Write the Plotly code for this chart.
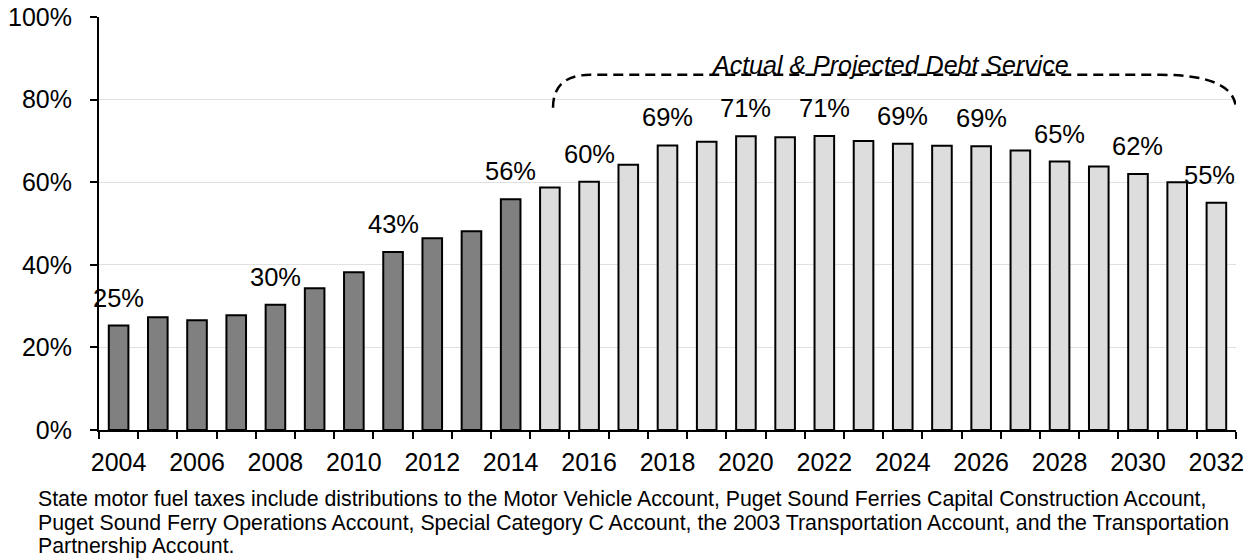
import plotly.graph_objects as go

years = list(range(2004, 2033))
values = [25.3, 27.3, 26.6, 27.8, 30.3, 34.3, 38.2, 43.1, 46.4, 48.1, 55.9,
          58.7, 60.1, 64.2, 68.9, 69.8, 71.1, 70.9, 71.2, 70.0, 69.3, 68.8,
          68.7, 67.7, 65.0, 63.8, 62.0, 60.0, 55.0]
first_projected_year = 2015
label_years = [2004, 2008, 2011, 2014, 2016, 2018, 2020, 2022, 2024, 2026, 2028, 2030, 2032]
y_ticks = [0, 20, 40, 60, 80, 100]
x_tick_years = list(range(2004, 2033, 2))
bracket_text = "Actual & Projected Debt Service"
footnote_lines = [
    "State motor fuel taxes include distributions to the Motor Vehicle Account, Puget Sound Ferries Capital Construction Account,",
    "Puget Sound Ferry Operations Account, Special Category C Account, the 2003 Transportation Account, and the Transportation",
    "Partnership Account.",
]

FONT = "Arial, Liberation Sans, sans-serif"
DARK = "#808080"
LIGHT = "#dddddd"

colors = [DARK if y < first_projected_year else LIGHT for y in years]

fig = go.Figure()
fig.add_trace(go.Bar(
    x=years, y=values,
    marker=dict(color=colors, line=dict(color="black", width=2)),
    width=0.5, hoverinfo="skip",
))

annotations = []
for yr in label_years:
    v = values[years.index(yr)]
    annotations.append(dict(
        x=yr, y=v, xref="x", yref="y", text=f"{round(v)}%",
        showarrow=False, yanchor="bottom", yshift=12,
        xshift=(-7 if yr == years[-1] else 0),
        font=dict(family=FONT, size=25.5, color="black"),
    ))

annotations.append(dict(
    x=2023.68, y=86, xref="x", yref="y",
    text=f"<i>{bracket_text}</i>", showarrow=False, yanchor="bottom", yshift=-6,
    font=dict(family=FONT, size=25, color="black"),
))

foot_y = [-0.167, -0.224, -0.280]
for line, fy in zip(footnote_lines, foot_y):
    annotations.append(dict(
        x=(36 - 99) / 1137, y=fy, xref="paper", yref="paper",
        xanchor="left", yanchor="middle", align="left", text=line,
        showarrow=False, font=dict(family=FONT, size=21.3, color="black"),
    ))

x0 = first_projected_year + 0.08
x1 = years[-1] + 0.5
bracket_path = (f"M {x0},78 Q {x0},86 {x0 + 0.95},86 "
                f"L {x1 - 1.93},86 Q {x1},86 {x1},77.5")

fig.update_layout(
    width=1254, height=559,
    margin=dict(l=99, r=18, t=17, b=129),
    paper_bgcolor="white", plot_bgcolor="white",
    showlegend=False,
    font=dict(family=FONT, size=25, color="black"),
    annotations=annotations,
    shapes=[dict(type="path", path=bracket_path, xref="x", yref="y",
                 line=dict(color="black", width=2.5, dash="10px,6px"))],
    xaxis=dict(
        range=[years[0] - 0.5, years[-1] + 0.5], automargin=False,
        tickmode="array", tickvals=x_tick_years,
        ticktext=[str(y) for y in x_tick_years],
        ticks="", showgrid=False, zeroline=False,
        showline=True, linecolor="black", linewidth=2,
        tickfont=dict(family=FONT, size=25, color="black"),
        minor=dict(tickmode="array",
                   tickvals=[y - 0.5 for y in years] + [years[-1] + 0.5],
                   ticks="outside", ticklen=7, tickwidth=2, tickcolor="black",
                   showgrid=False),
        ticklabelstandoff=9, ticklabeloverflow="allow",
    ),
    yaxis=dict(
        range=[0, 100], tickmode="array", tickvals=y_ticks, automargin=False,
        ticktext=[f"{t}%" for t in y_ticks],
        ticks="outside", ticklen=7, tickwidth=2, tickcolor="black",
        showgrid=True, gridcolor="#e0e0e0", gridwidth=1,
        zeroline=False, showline=True, linecolor="black", linewidth=2,
        tickfont=dict(family=FONT, size=25, color="black"),
        ticklabelstandoff=13, ticklabeloverflow="allow",
    ),
)

fig.write_html("out.html",
               config={"displayModeBar": False},
               post_script="document.body.style.margin='0';document.body.style.overflow='hidden';")
